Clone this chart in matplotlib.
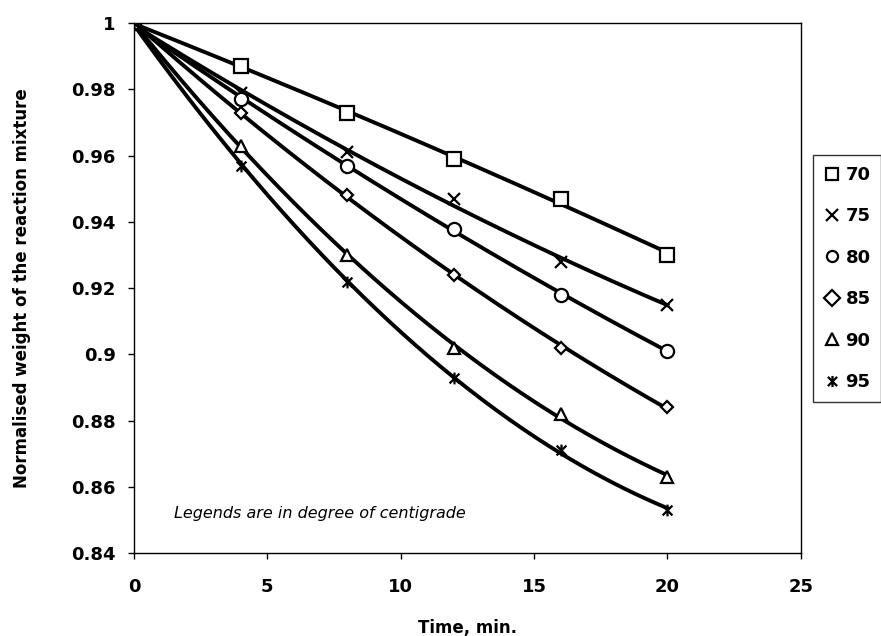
import numpy as np
import matplotlib
matplotlib.use('Agg')
import matplotlib.pyplot as plt
from matplotlib.path import Path

# time in minutes and normalised weight for each temperature (deg C)
time = [0, 4, 8, 12, 16, 20]
temps = ['70', '75', '80', '85', '90', '95']
w70 = [1.0, 0.987, 0.973, 0.959, 0.947, 0.930]
w75 = [1.0, 0.979, 0.961, 0.947, 0.928, 0.915]
w80 = [1.0, 0.977, 0.957, 0.938, 0.918, 0.901]
w85 = [1.0, 0.973, 0.948, 0.924, 0.902, 0.884]
w90 = [1.0, 0.963, 0.930, 0.902, 0.882, 0.863]
w95 = [1.0, 0.957, 0.922, 0.893, 0.871, 0.853]
series = [w70, w75, w80, w85, w90, w95]

plt.rcParams['font.family'] = ['DejaVu Sans']

# excel style star: an x with a vertical bar
star = Path([(-1, -1), (1, 1), (-1, 1), (1, -1), (0, -1.2), (0, 1.2)],
            [Path.MOVETO, Path.LINETO, Path.MOVETO, Path.LINETO, Path.MOVETO, Path.LINETO])
markers = ['s', 'x', 'o', 'D', '^', star]
sizes = [9.5, 8.5, 9.5, 6, 8.5, 8.5]

fig = plt.figure(figsize=(8.81, 6.36), dpi=100)
ax = fig.add_axes([0.152, 0.1305, 0.757, 0.8329])

t = np.array(time)
tt = np.linspace(0, 20, 200)
for w, m, s, lab in zip(series, markers, sizes, temps):
    # trend line (2nd order polynomial fit)
    coef = np.polyfit(t, w, 2)
    ax.plot(tt, np.polyval(coef, tt), color='black', lw=2.8, zorder=2)
    ax.plot(t, w, linestyle='none', marker=m, markersize=s, markerfacecolor='white',
            markeredgecolor='black', markeredgewidth=1.6, label=lab, zorder=3)

ax.set_xlim(0, 25)
ax.set_ylim(0.84, 1.0)
ax.set_xticks([0, 5, 10, 15, 20, 25])
ax.set_yticks([0.84, 0.86, 0.88, 0.9, 0.92, 0.94, 0.96, 0.98, 1.0])
ax.set_yticklabels(['0.84', '0.86', '0.88', '0.9', '0.92', '0.94', '0.96', '0.98', '1'])
ax.tick_params(axis='both', direction='out', length=4, width=1, labelsize=13)
ax.tick_params(axis='y', pad=9)
ax.tick_params(axis='x', pad=14)
for lbl in ax.get_xticklabels() + ax.get_yticklabels():
    lbl.set_fontweight('bold')
for sp in ax.spines.values():
    sp.set_linewidth(1)

ax.set_xlabel('Time, min.', fontsize=12, fontweight='bold')
ax.set_ylabel('Normalised weight of the reaction mixture', fontsize=12, fontweight='bold')
ax.xaxis.set_label_coords(0.5, -0.125)
ax.yaxis.set_label_coords(-0.155, 0.5)

ax.text(0.06, 0.075, 'Legends are in degree of centigrade', transform=ax.transAxes,
        fontsize=11.5, fontstyle='italic', va='center', ha='left')

leg = fig.legend(loc='upper left', bbox_to_anchor=(813 / 881, 1 - 155 / 636),
                 prop={'weight': 'bold', 'size': 13}, frameon=True,
                 fancybox=False, edgecolor='black', handlelength=0.9,
                 handletextpad=0.3, labelspacing=1.3, borderpad=0.6, borderaxespad=0)
leg.get_frame().set_linewidth(1)
for h in leg.legend_handles:
    h.set_markersize(8)

fig.savefig('out.png', dpi=100)
